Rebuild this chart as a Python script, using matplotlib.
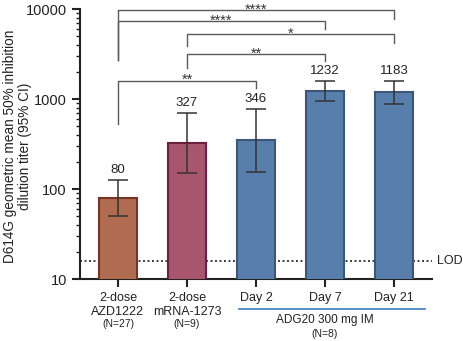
import numpy as np
import matplotlib
matplotlib.use("Agg")
import matplotlib.pyplot as plt
from matplotlib.ticker import LogLocator, FixedFormatter, FixedLocator

# titers (geometric mean with 95% CI)
groups = ["2-dose\nAZD1222", "2-dose\nmRNA-1273", "Day 2", "Day 7", "Day 21"]
n_labels = ["(N=27)", "(N=9)", "", "", ""]
gmt = [80, 327, 346, 1232, 1183]
ci_low = [50, 150, 155, 950, 880]
ci_high = [126, 699, 774, 1585, 1585]
lod = 16

# comparisons: (left bar, right bar, line level, left leg end, right leg end, stars)
comparisons = [
    (0, 4, 9750, 2710, 7740, "****"),
    (0, 3, 7360, 2710, 5990, "****"),
    (1, 4, 5270, 3880, 4190, "*"),
    (1, 3, 3160, 2210, 2640, "**"),
    (0, 2, 1596, 527, 1324, "**"),
]

fills = ["#b06c50", "#a8566f", "#587eab", "#587eab", "#587eab"]
edges = ["#7a3322", "#6d1f3d", "#3b5679", "#3b5679", "#3b5679"]
ink = "#222222"

plt.rcParams["font.family"] = ["Liberation Sans", "DejaVu Sans"]

fig = plt.figure(figsize=(4.63, 3.41), dpi=100)
ax = fig.add_axes([0.1728, 0.1818, 0.933 - 0.1728, 0.9736 - 0.1818])

x = np.arange(len(gmt))
yerr = [np.array(gmt) - np.array(ci_low), np.array(ci_high) - np.array(gmt)]
ax.bar(x, gmt, width=0.54, color=fills, edgecolor=edges, linewidth=1.5, zorder=3)
ax.errorbar(x, gmt, yerr=yerr, fmt="none", ecolor="#333333", elinewidth=1.1,
            capsize=7, capthick=1.1, zorder=4)

for xi, v, hi in zip(x, gmt, ci_high):
    ax.annotate(str(v), (xi, hi), xytext=(0, 3), textcoords="offset points",
                ha="center", va="bottom", fontsize=9.5, color=ink)

ax.set_yscale("log")
ax.set_ylim(10, 10000)
ax.set_xlim(-0.55, 4.55)

# limit of detection
ax.axhline(lod, color=ink, linestyle=(0, (1.2, 1.5)), linewidth=1.2, zorder=1)
ax.text(4.62, lod, "LOD", va="center", ha="left", fontsize=9, color=ink)

# significance brackets
for a, b, level, la, lb, stars in comparisons:
    ax.plot([a, a, b, b], [la, level, level, lb], color="#5a5a5a", linewidth=1.0,
            clip_on=False, zorder=2)
    ax.annotate(stars, ((a + b) / 2, level), xytext=(0, -2.5), textcoords="offset points",
                ha="center", va="baseline", fontsize=10.5, color="#333333",
                annotation_clip=False)

ax.yaxis.set_major_locator(FixedLocator([10, 100, 1000, 10000]))
ax.yaxis.set_major_formatter(FixedFormatter(["10", "100", "1000", "10000"]))
ax.yaxis.set_minor_locator(LogLocator(base=10, subs=np.arange(2, 10)))
ax.yaxis.set_minor_formatter(plt.NullFormatter())
ax.tick_params(axis="y", which="major", length=6, width=1.5, labelsize=10.5, colors=ink)
ax.tick_params(axis="y", which="minor", length=3, width=1.0, colors=ink)
ax.tick_params(axis="x", length=6, width=1.5, colors=ink, labelsize=9)

ax.set_xticks(x)
ax.set_xticklabels(groups, fontsize=9, linespacing=1.15)
for xi, nl in zip(x, n_labels):
    if nl:
        ax.text(xi, -0.165, nl, transform=ax.get_xaxis_transform(), ha="center",
                va="center", fontsize=7.5, color=ink)

for s in ["top", "right"]:
    ax.spines[s].set_visible(False)
for s in ["left", "bottom"]:
    ax.spines[s].set_linewidth(1.5)
    ax.spines[s].set_color(ink)

# ADG20 group underline
ax.plot([1.75, 4.45], [-0.111, -0.111], transform=ax.get_xaxis_transform(),
        color="#4a86c5", linewidth=1.3, clip_on=False)
ax.text(3.0, -0.152, "ADG20 300 mg IM", transform=ax.get_xaxis_transform(),
        ha="center", va="center", fontsize=8.5, color=ink)
ax.text(3.0, -0.203, "(N=8)", transform=ax.get_xaxis_transform(),
        ha="center", va="center", fontsize=7.5, color=ink)

ax.set_ylabel("D614G geometric mean 50% inhibition\ndilution titer (95% CI)",
              fontsize=9.8, color=ink, linespacing=1.1)
ax.yaxis.set_label_coords(-0.136, 0.49)

fig.savefig("out.png", dpi=100)
